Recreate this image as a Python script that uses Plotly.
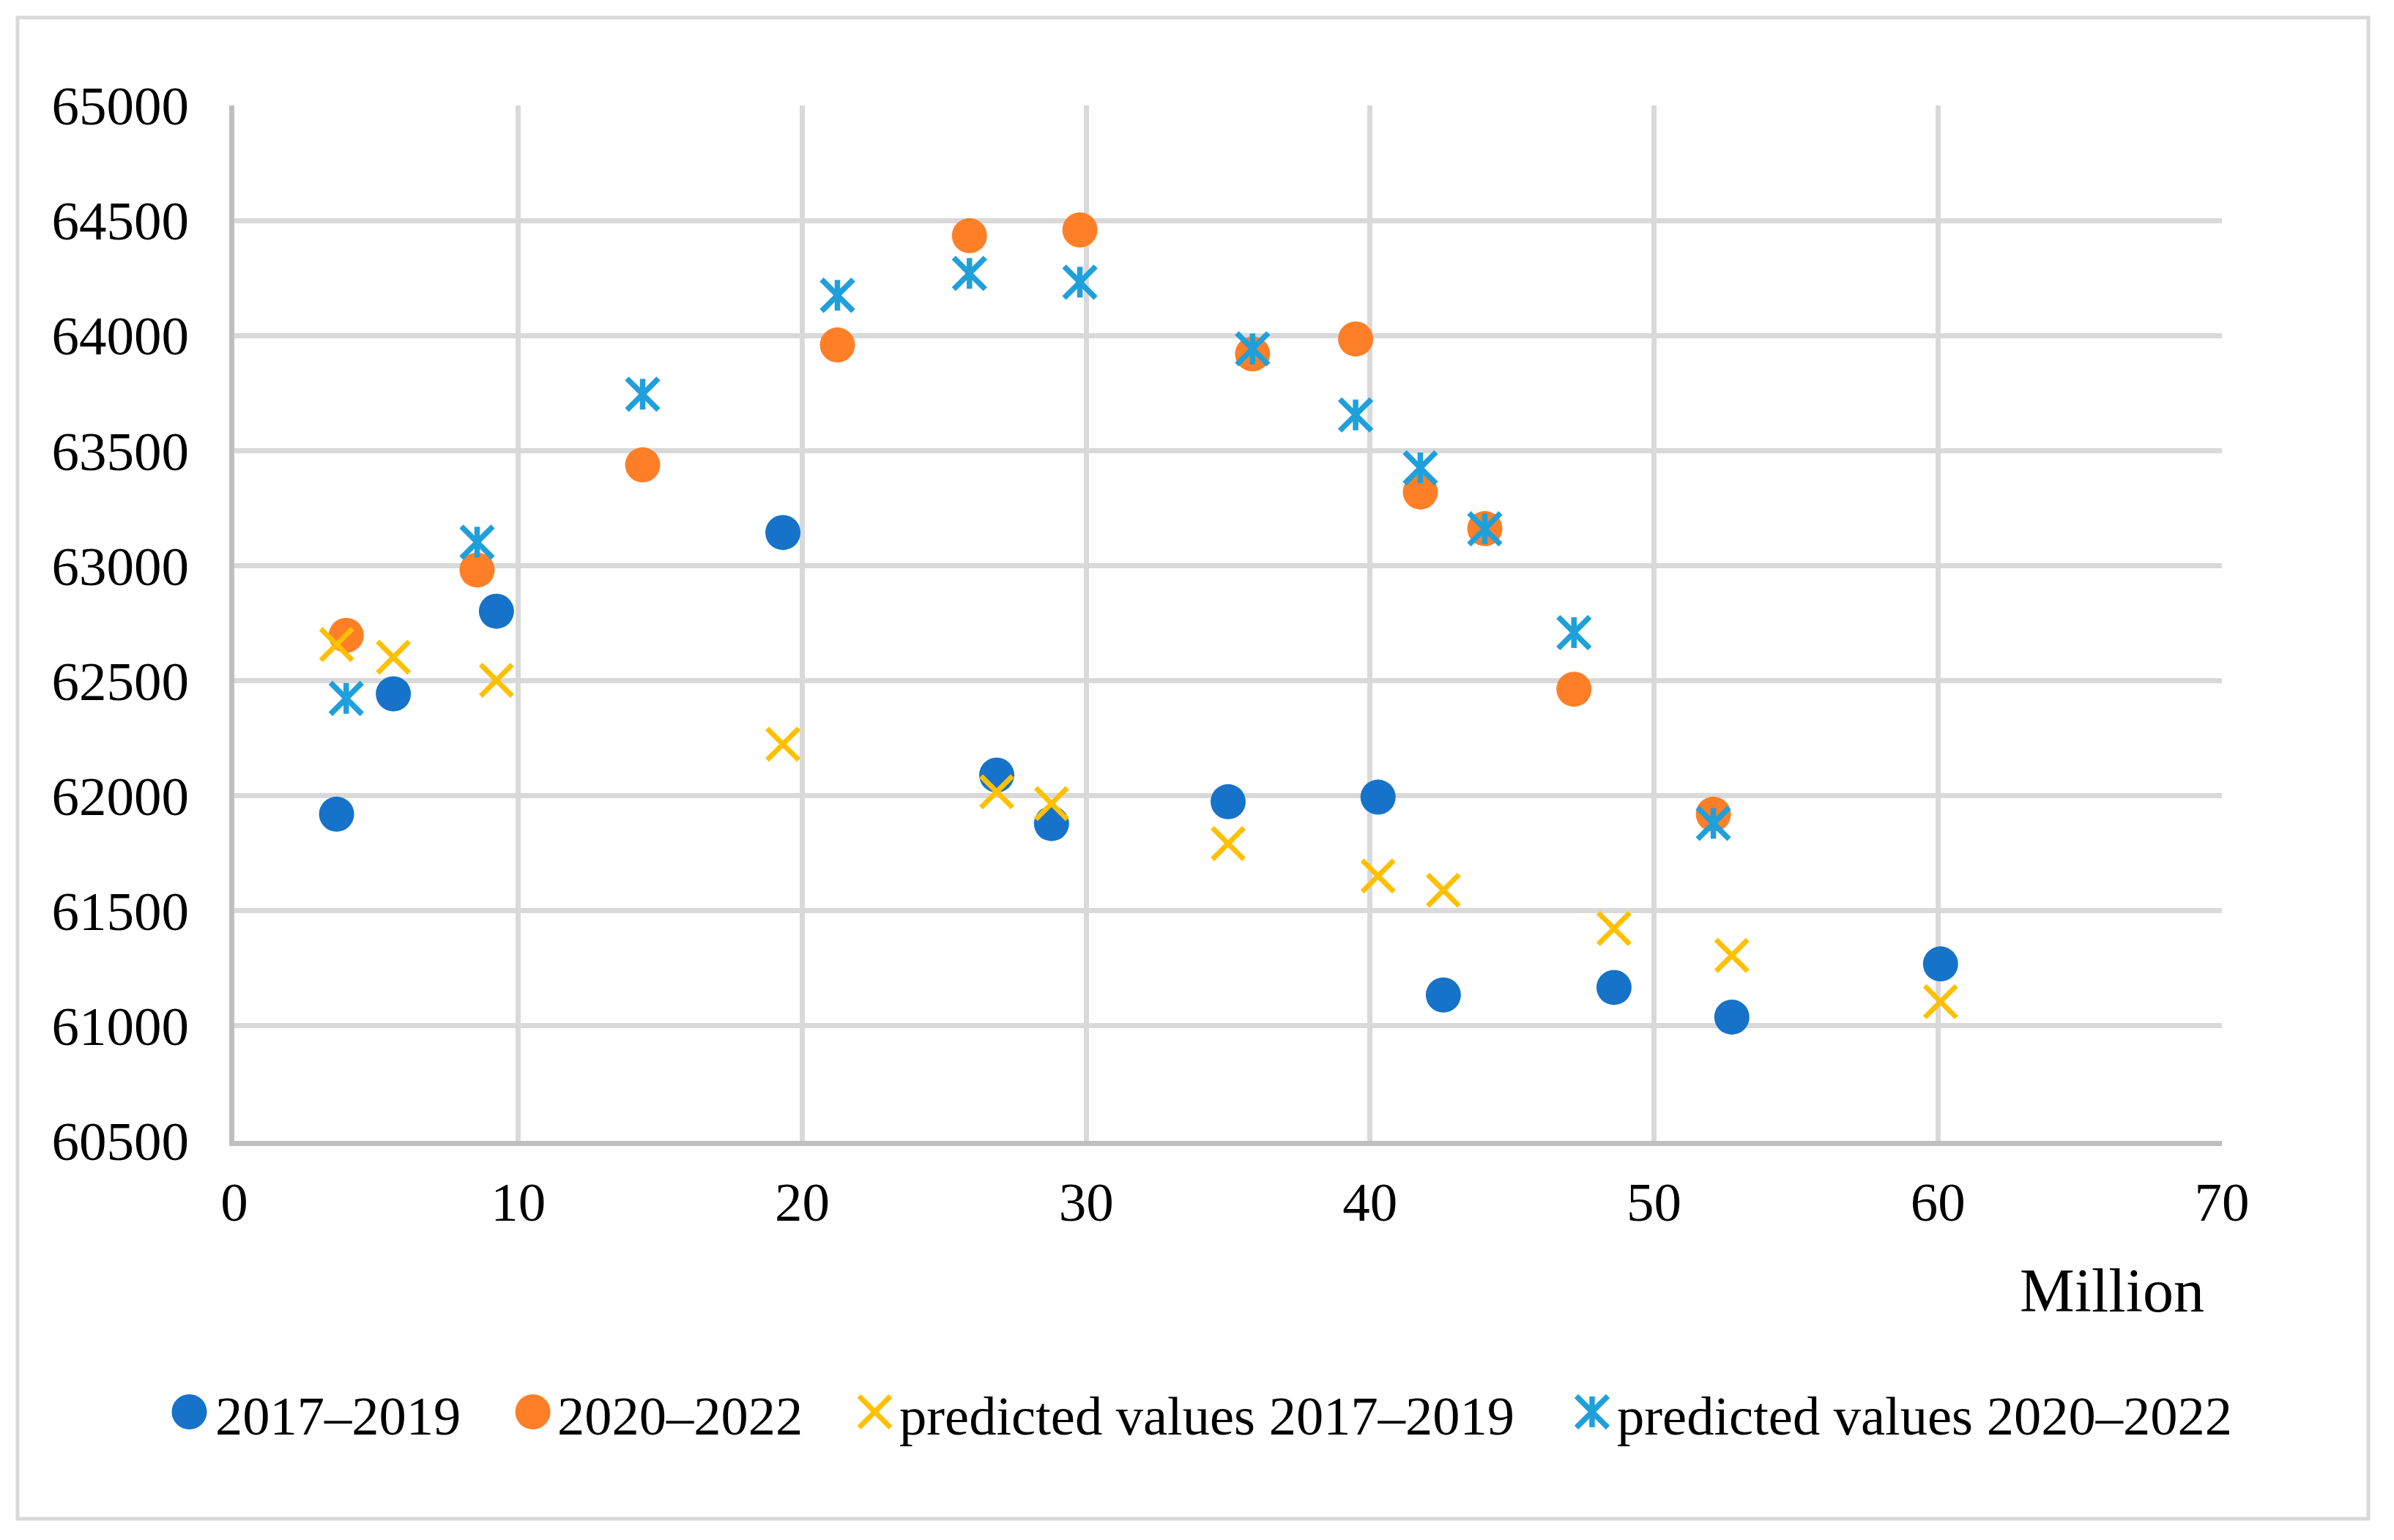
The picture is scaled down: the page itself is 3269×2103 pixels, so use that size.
import plotly.graph_objects as go

# ---------------- data ----------------
x_2017 = [3.6, 5.6, 9.23, 19.32, 26.85, 28.78, 35.0, 40.28, 42.58, 48.59, 52.74, 60.09]
y_2017 = [61920, 62443, 62802, 63144, 62090, 61879, 61974, 61994, 61134, 61167, 61038, 61269]
pred_2017 = [62657, 62602, 62502, 62224, 62017, 61966, 61792, 61651, 61589, 61423, 61306, 61105]

x_2020 = [3.94, 8.55, 14.38, 21.24, 25.89, 29.78, 35.86, 39.49, 41.77, 44.04, 47.18, 52.09]
y_2020 = [62697, 62981, 63438, 63959, 64434, 64459, 63920, 63985, 63320, 63161, 62463, 61920]
pred_2020 = [62423, 63102, 63745, 64175, 64270, 64232, 63942, 63655, 63425, 63160, 62709, 61880]

names = ["2017–2019", "2020–2022", "predicted values 2017–2019", "predicted values 2020–2022"]
x_title = "Million"

# ---------------- style ----------------
OFF = 8  # default page body margin of the written html
W, H = 3269 - 2 * OFF, 2103 - 2 * OFF
ML, MT = 320 - OFF, 144 - OFF
MR, MB = 227, 537
PW, PH = W - ML - MR, H - MT - MB
FONT = "Liberation Serif"
C_BLUE = "#1673C9"
C_ORANGE = "#FE7F27"
C_YELLOW = "#FFC000"
C_STAR = "#1FA0DB"
GRID = "#D9D9D9"
AXIS = "#BFBFBF"


def px(x):
    return (x - OFF - ML) / PW


def py(y):
    return (H - MB - (y - OFF)) / PH


fig = go.Figure()
fig.add_trace(go.Scatter(x=x_2017, y=y_2017, mode="markers", name=names[0],
                         marker=dict(symbol="circle", size=48, color=C_BLUE, line=dict(width=0))))
fig.add_trace(go.Scatter(x=x_2020, y=y_2020, mode="markers", name=names[1],
                         marker=dict(symbol="circle", size=48, color=C_ORANGE, line=dict(width=0))))
fig.add_trace(go.Scatter(x=x_2017, y=pred_2017, mode="markers", name=names[2],
                         marker=dict(symbol="x-thin", size=43, color=C_YELLOW,
                                     line=dict(width=7, color=C_YELLOW))))
fig.add_trace(go.Scatter(x=x_2020, y=pred_2020, mode="markers", name=names[3],
                         marker=dict(symbol="x-thin", size=43, color=C_STAR,
                                     line=dict(width=7.5, color=C_STAR))))
fig.add_trace(go.Scatter(x=x_2020, y=pred_2020, mode="markers", name=names[3],
                         showlegend=False, hoverinfo="skip",
                         marker=dict(symbol="line-ns", size=30, color=C_STAR,
                                     line=dict(width=7.5, color=C_STAR))))

axis_common = dict(showgrid=True, gridcolor=GRID, gridwidth=7, zeroline=False,
                   showline=True, linecolor=AXIS, linewidth=7, ticks="",
                   tickfont=dict(family=FONT, size=75, color="black"))

fig.update_xaxes(range=[0, 70], dtick=10, tick0=0, ticklabelstandoff=12, **axis_common)
fig.update_yaxes(range=[60500, 65000], dtick=500, tick0=60500, tickformat="d",
                 ticklabelstandoff=40, **axis_common)

shapes = []
# outer chart border
shapes.append(dict(type="rect", xref="paper", yref="paper",
                   x0=px(24), x1=px(3234), y0=py(2074), y1=py(24),
                   line=dict(color=GRID, width=5), layer="below"))

# legend symbols
LY = 1928


def dot(cx, color):
    return dict(type="circle", xref="paper", yref="paper", xsizemode="pixel", ysizemode="pixel",
                xanchor=px(cx), yanchor=py(LY), x0=-24, x1=24, y0=-24, y1=24,
                fillcolor=color, line=dict(width=0))


def seg(cx, dx0, dy0, dx1, dy1, color, w):
    return dict(type="line", xref="paper", yref="paper", xsizemode="pixel", ysizemode="pixel",
                xanchor=px(cx), yanchor=py(LY), x0=dx0, x1=dx1, y0=dy0, y1=dy1,
                line=dict(color=color, width=w))


shapes.append(dot(258.5, C_BLUE))
shapes.append(dot(727.6, C_ORANGE))
shapes.append(seg(1194.5, -21.5, -21.5, 21.5, 21.5, C_YELLOW, 7))
shapes.append(seg(1194.5, -21.5, 21.5, 21.5, -21.5, C_YELLOW, 7))
shapes.append(seg(2174, -21.5, -21.5, 21.5, 21.5, C_STAR, 7.5))
shapes.append(seg(2174, -21.5, 21.5, 21.5, -21.5, C_STAR, 7.5))
shapes.append(seg(2174, 0, -21, 0, 21, C_STAR, 7.5))

annotations = []
for tx, label in zip([292, 759, 1226, 2206], names):
    annotations.append(dict(text=label, xref="paper", yref="paper", x=px(tx), y=py(1934),
                            xanchor="left", yanchor="middle", showarrow=False,
                            font=dict(family=FONT, size=74.5, color="black")))
annotations.append(dict(text=x_title, xref="paper", yref="paper", x=px(3012), y=py(1762),
                        xanchor="right", yanchor="middle", showarrow=False,
                        font=dict(family=FONT, size=84, color="black")))

fig.update_layout(width=W, height=H, margin=dict(l=ML, r=MR, t=MT, b=MB, pad=0),
                  paper_bgcolor="white", plot_bgcolor="white", showlegend=False,
                  shapes=shapes, annotations=annotations,
                  font=dict(family=FONT, size=74, color="black"))

fig.write_html("out.html")
